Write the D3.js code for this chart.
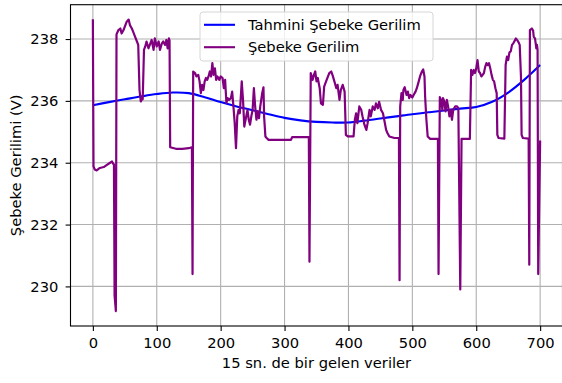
<!DOCTYPE html>
<html>
<head>
<meta charset="utf-8">
<script src="https://cdn.jsdelivr.net/npm/d3@7/dist/d3.min.js"></script>
<style>
  html, body { margin: 0; padding: 0; background: #fff; }
  svg { display: block; }
  text { font-family: "DejaVu Sans", sans-serif; }
</style>
</head>
<body>
<svg id="chart" width="562" height="383"></svg>
<script>
// Tick values
const xTicks = [0, 100, 200, 300, 400, 500, 600, 700];
const yTicks = [230, 232, 234, 236, 238];

// Measured grid voltage: sample index / volts at each vertex of the trace
const measuredIdx = [
  0, 1, 3, 6, 11, 17, 22, 27, 30, 32, 33, 34, 36, 37, 40, 43, 45, 48, 50, 53,
  56, 58, 61, 63, 66, 69, 71, 73, 75, 77, 78, 80, 82, 84, 87, 90, 92, 95, 97, 100,
  103, 105, 108, 110, 113, 115, 117, 119, 120, 121, 130, 140, 150, 155, 156, 157, 160, 162, 165, 167,
  169, 171, 173, 175, 177, 179, 181, 183, 185, 187, 189, 191, 193, 195, 198, 200, 203, 205, 207, 209,
  211, 213, 216, 218, 220, 222, 224, 226, 228, 230, 233, 235, 237, 240, 242, 244, 246, 248, 250, 252,
  254, 256, 258, 260, 262, 265, 267, 268, 270, 272, 275, 310, 312, 338, 339, 341, 344, 346, 348, 350,
  352, 355, 357, 360, 362, 365, 368, 370, 373, 375, 378, 381, 383, 386, 388, 391, 394, 396, 399, 408,
  410, 412, 414, 417, 420, 422, 425, 428, 430, 433, 435, 438, 441, 443, 446, 448, 451, 454, 456, 459,
  461, 464, 472, 479, 480, 481, 483, 485, 486, 488, 491, 493, 495, 497, 500, 502, 505, 507, 510, 512,
  515, 517, 519, 520, 522, 524, 528, 540, 541, 543, 545, 547, 548, 550, 552, 554, 556, 558, 560, 562,
  564, 567, 570, 572, 575, 577, 590, 592, 594, 596, 598, 600, 602, 604, 606, 608, 610, 612, 614, 616,
  618, 620, 622, 624, 626, 628, 630, 632, 633, 635, 644, 646, 648, 650, 652, 654, 656, 658, 660, 662,
  665, 667, 668, 670, 671, 673, 682, 683, 684, 687, 689, 690, 692, 694, 695, 696, 697, 700
];
const measuredVolt = [
  238.64, 233.88, 233.78, 233.75, 233.83, 233.86, 233.93, 234.00, 234.04, 233.96, 233.95, 229.70, 229.20, 238.15, 238.29, 238.34, 238.18, 238.29, 238.40, 238.56,
  238.63, 238.45, 238.34, 238.24, 238.08, 237.92, 237.81, 236.35, 235.98, 236.09, 236.05, 237.65, 237.76, 237.92, 237.70, 237.86, 237.97, 237.65, 238.02, 237.76,
  237.92, 237.65, 237.86, 237.92, 237.81, 237.97, 237.70, 238.02, 237.95, 234.50, 234.45, 234.45, 234.47, 234.50, 230.40, 236.95, 236.90, 236.79, 236.84, 236.63,
  236.25, 236.52, 236.35, 236.63, 236.74, 236.68, 236.79, 236.95, 236.79, 237.22, 236.84, 237.05, 236.68, 236.79, 236.68, 236.79, 236.74, 236.41, 236.68, 235.93,
  236.09, 236.03, 236.09, 236.30, 235.82, 235.28, 234.47, 235.50, 235.71, 235.60, 236.63, 236.03, 235.17, 235.50, 235.71, 235.39, 235.23, 235.50, 235.71, 236.41,
  235.82, 235.39, 235.66, 235.44, 235.82, 236.25, 236.44, 235.50, 234.85, 234.80, 234.74, 234.74, 234.83, 234.83, 230.80, 236.90, 236.68, 236.84, 236.95, 236.63,
  236.74, 236.41, 235.92, 235.87, 236.46, 236.63, 236.79, 236.90, 236.95, 236.84, 236.63, 236.41, 236.52, 236.03, 236.35, 236.52, 236.30, 234.90, 234.85, 234.85,
  235.39, 235.60, 235.28, 235.82, 235.71, 235.50, 235.23, 235.06, 235.28, 235.71, 235.50, 235.82, 235.71, 235.92, 235.76, 235.97, 235.71, 235.60, 235.39, 235.06,
  234.96, 234.85, 234.80, 234.80, 230.20, 235.82, 236.25, 236.03, 236.35, 236.44, 236.19, 236.30, 236.09, 236.19, 236.11, 236.19, 236.30, 236.41, 236.63, 236.79,
  236.95, 237.02, 236.79, 236.14, 235.39, 234.85, 234.77, 234.77, 230.40, 236.12, 236.03, 235.71, 236.09, 235.98, 235.66, 236.03, 235.82, 235.50, 235.71, 235.39,
  235.71, 235.82, 235.82, 235.76, 229.90, 234.77, 234.77, 237.00, 236.84, 237.00, 236.90, 237.05, 237.32, 236.95, 236.90, 236.79, 236.84, 236.90, 237.10, 237.22,
  237.16, 237.22, 237.05, 236.84, 236.68, 236.63, 236.41, 236.25, 234.90, 234.80, 234.78, 237.16, 237.43, 237.32, 237.57, 237.60, 237.81, 237.86, 237.94, 238.02,
  237.94, 237.86, 237.81, 236.79, 234.90, 234.80, 234.78, 230.70, 238.29, 238.34, 238.27, 238.07, 238.02, 237.70, 237.81, 237.65, 230.40, 234.72
];

// Fitted (predicted) grid voltage curve
const fitIdx = [0, 25, 50, 75, 100, 125, 150, 175, 200, 225, 250, 275, 300, 325, 350,
  375, 400, 425, 450, 475, 500, 525, 550, 575, 600, 625, 650, 675, 700];
const fitVolt = [235.86, 235.96, 236.05, 236.14, 236.22, 236.27, 236.25, 236.12, 235.96, 235.82, 235.70, 235.57, 235.45, 235.37, 235.32,
  235.30, 235.30, 235.36, 235.43, 235.50, 235.57, 235.63, 235.69, 235.75, 235.80, 235.97, 236.27, 236.68, 237.16];

const seriesNames = ["Tahmini Şebeke Gerilim", "Şebeke Gerilim"];
const xLabel = "15 sn. de bir gelen veriler";
const yLabel = "Şebeke Gerilimi (V)";

const measured = measuredIdx.map((d, i) => ({ x: d, y: measuredVolt[i] }));
const fitted = fitIdx.map((d, i) => ({ x: d, y: fitVolt[i] }));

const svg = d3.select("#chart");
const plot = { left: 70.5, right: 562.5, top: 4.7, bottom: 326 };
const fontSize = 14.7;

const x = d3.scaleLinear().domain([-35, 735]).range([plot.left, plot.right]);
const y = d3.scaleLinear().domain([228.72, 239.11]).range([plot.bottom, plot.top]);

// Grid
const grid = svg.append("g").attr("class", "grid");
grid.selectAll("line.gx").data(xTicks).join("line")
  .attr("x1", d => x(d)).attr("x2", d => x(d))
  .attr("y1", plot.top).attr("y2", plot.bottom)
  .attr("stroke", "#b0b0b0").attr("stroke-width", 1.1);
grid.selectAll("line.gy").data(yTicks).join("line")
  .attr("y1", d => y(d)).attr("y2", d => y(d))
  .attr("x1", plot.left).attr("x2", plot.right)
  .attr("stroke", "#b0b0b0").attr("stroke-width", 1.1);

// Series
svg.append("clipPath").attr("id", "plotclip").append("rect")
  .attr("x", plot.left).attr("y", plot.top)
  .attr("width", plot.right - plot.left).attr("height", plot.bottom - plot.top);

const line = d3.line().x(d => x(d.x)).y(d => y(d.y));
const smooth = d3.line().x(d => x(d.x)).y(d => y(d.y)).curve(d3.curveCatmullRom);

svg.append("path").datum(fitted)
  .attr("clip-path", "url(#plotclip)")
  .attr("d", smooth).attr("fill", "none")
  .attr("stroke", "blue").attr("stroke-width", 2.1);

svg.append("path").datum(measured)
  .attr("clip-path", "url(#plotclip)")
  .attr("d", line).attr("fill", "none")
  .attr("stroke", "purple").attr("stroke-width", 2.2)
  .attr("stroke-linejoin", "round");

// Axes
const xAxis = d3.axisBottom(x).tickValues(xTicks).tickSize(4.9).tickPadding(6.6).tickFormat(d3.format("d"));
const yAxis = d3.axisLeft(y).tickValues(yTicks).tickSize(4.9).tickPadding(7.2).tickFormat(d3.format("d"));

const gx = svg.append("g").attr("transform", `translate(0,${plot.bottom})`).call(xAxis);
const gy = svg.append("g").attr("transform", `translate(${plot.left},0)`).call(yAxis);
[gx, gy].forEach(g => {
  g.select(".domain").remove();
  g.selectAll(".tick line").attr("stroke", "#000").attr("stroke-width", 1.1);
  g.selectAll(".tick text").attr("fill", "#000").style("font-size", fontSize + "px")
    .style("font-family", '"DejaVu Sans", sans-serif');
});

// Spines
svg.append("rect")
  .attr("x", plot.left).attr("y", plot.top)
  .attr("width", plot.right - plot.left).attr("height", plot.bottom - plot.top)
  .attr("fill", "none").attr("stroke", "#000").attr("stroke-width", 1.1);

// Axis titles
svg.append("text")
  .attr("x", (plot.left + plot.right) / 2).attr("y", 368)
  .attr("text-anchor", "middle").style("font-size", fontSize + "px")
  .attr("fill", "#000").text(xLabel);

svg.append("text")
  .attr("transform", `translate(21,${(plot.top + plot.bottom) / 2}) rotate(-90)`)
  .attr("text-anchor", "middle").style("font-size", fontSize + "px")
  .attr("fill", "#000").text(yLabel);

// Legend
const legendW = 233, legendH = 49;
const lg = svg.append("g").attr("transform", `translate(${(plot.left + plot.right) / 2 - legendW / 2},12)`);
lg.append("rect").attr("x", 0).attr("y", 0).attr("width", legendW).attr("height", legendH)
  .attr("rx", 3).attr("fill", "#fff").attr("fill-opacity", 0.8)
  .attr("stroke", "#d6d6d6").attr("stroke-width", 1);
const colors = ["blue", "purple"];
seriesNames.forEach((name, i) => {
  const cy = 12.8 + i * 22.4;
  lg.append("line").attr("x1", 4).attr("x2", 35).attr("y1", cy).attr("y2", cy)
    .attr("stroke", colors[i]).attr("stroke-width", 2.1);
  lg.append("text").attr("x", 48).attr("y", cy).attr("dy", "0.36em")
    .style("font-size", fontSize + "px").attr("fill", "#000").text(name);
});
</script>
</body>
</html>
